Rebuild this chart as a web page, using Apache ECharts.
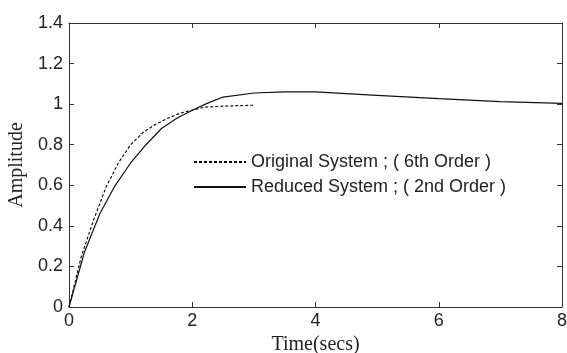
<!DOCTYPE html>
<html>
<head>
<meta charset="utf-8">
<script src="https://cdn.jsdelivr.net/npm/echarts@6/dist/echarts.min.js"></script>
<style>
  html, body { margin: 0; padding: 0; background: #fff; }
  #chart { width: 567px; height: 353px; }
</style>
</head>
<body>
<div id="chart"></div>
<script>
// step responses
const origTime = [0, 0.2, 0.4, 0.6, 0.8, 1.0, 1.2, 1.4, 1.6, 1.8, 2.0, 2.2, 2.5, 3.0];
const origAmp = [0, 0.25, 0.43, 0.59, 0.71, 0.80, 0.86, 0.90, 0.93, 0.955, 0.97, 0.985, 0.99, 0.995];

const redTime = [0, 0.25, 0.5, 0.75, 1.0, 1.25, 1.5, 1.75, 2.0, 2.25, 2.5, 3.0, 3.5, 4.0, 5, 6, 7, 8];
const redAmp = [0, 0.27, 0.46, 0.60, 0.71, 0.80, 0.88, 0.93, 0.97, 1.005, 1.035, 1.055, 1.06, 1.06, 1.043, 1.027, 1.012, 1.004];

const xTicks = { min: 0, max: 8, interval: 2 };
const yTicks = { min: 0, max: 1.4, interval: 0.2 };

const pairs = (xs, ys) => xs.map((x, i) => [x, ys[i]]);

const sans = 'Liberation Sans';
const serif = 'Liberation Serif';
const axisColor = '#333';

const boxAxis = {
  axisLine: { show: true, onZero: false, lineStyle: { color: axisColor, width: 1 } },
  axisTick: { show: true, inside: true, length: 5, lineStyle: { color: axisColor } },
  splitLine: { show: false },
};

const chart = echarts.init(document.getElementById('chart'));
chart.setOption({
  animation: false,
  grid: { left: 69, top: 23, right: 5, bottom: 46, outerBoundsMode: 'none', containLabel: false },
  legend: {
    orient: 'vertical',
    left: 188,
    top: 148,
    itemWidth: 52,
    itemHeight: 14,
    itemGap: 7,
    itemStyle: { opacity: 0 },
    textStyle: { fontFamily: sans, fontSize: 18, color: '#222' },
    data: ['Original System ; ( 6th Order )', 'Reduced System ; ( 2nd Order )'],
  },
  xAxis: [
    {
      type: 'value', ...xTicks, ...boxAxis,
      axisLabel: { fontFamily: sans, fontSize: 18, color: '#222', margin: 5 },
      name: 'Time(secs)',
      nameLocation: 'middle',
      nameGap: 23,
      nameTextStyle: { fontFamily: serif, fontSize: 20, color: '#222' },
    },
    { type: 'value', position: 'top', ...xTicks, ...boxAxis, axisLabel: { show: false } },
  ],
  yAxis: [
    {
      type: 'value', ...yTicks, ...boxAxis,
      axisLabel: { fontFamily: sans, fontSize: 18, color: '#222', margin: 6 },
      name: 'Amplitude',
      nameLocation: 'middle',
      nameGap: 40,
      nameTextStyle: { fontFamily: serif, fontSize: 20, color: '#222' },
    },
    { type: 'value', position: 'right', ...yTicks, ...boxAxis, axisLabel: { show: false } },
  ],
  series: [
    {
      name: 'Original System ; ( 6th Order )',
      type: 'line',
      data: pairs(origTime, origAmp),
      symbol: 'none',
      lineStyle: { color: '#000', width: 1.1, type: [3, 2] },
      itemStyle: { color: '#000' },
    },
    {
      name: 'Reduced System ; ( 2nd Order )',
      type: 'line',
      data: pairs(redTime, redAmp),
      symbol: 'none',
      lineStyle: { color: '#111', width: 1.2 },
      itemStyle: { color: '#111' },
    },
  ],
});
</script>
</body>
</html>
